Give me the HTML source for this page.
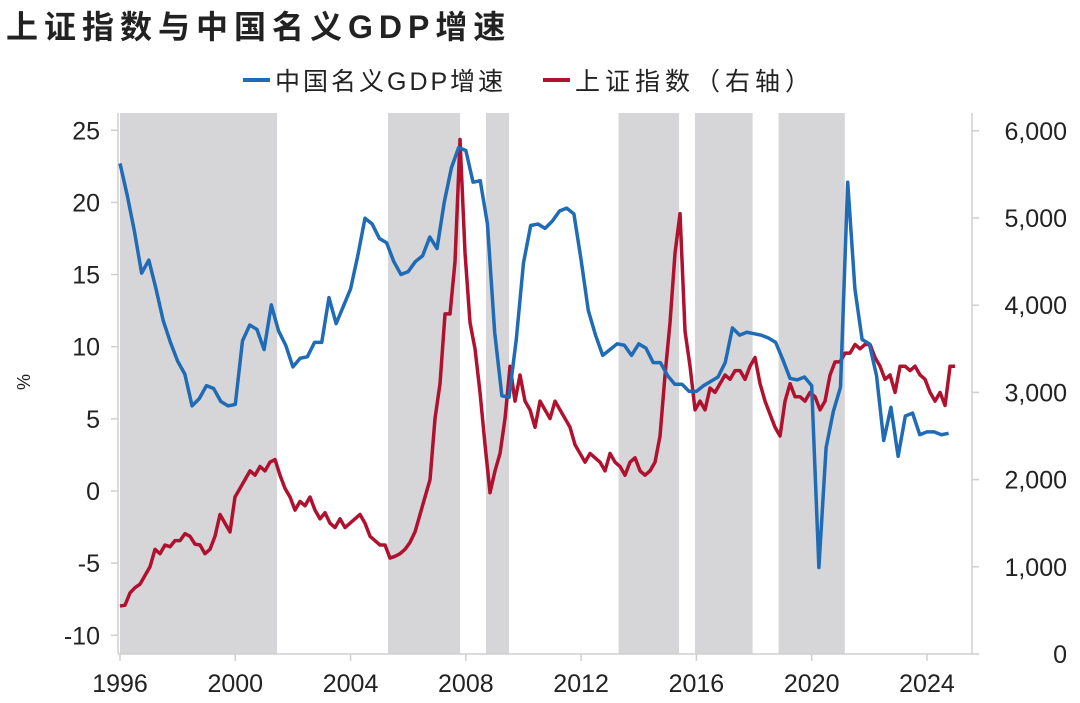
<!DOCTYPE html>
<html><head><meta charset="utf-8"><style>
body{margin:0;background:#fff;}
svg text{font-family:"Liberation Sans","Noto Sans CJK SC",sans-serif;fill:#222;}
</style></head><body>
<svg id="chart" width="1080" height="698" xmlns="http://www.w3.org/2000/svg">
<text x="6" y="38" font-size="32" font-weight="bold" style="letter-spacing:6px">上证指数与中国名义GDP增速</text>
<g>
<line x1="243" y1="80" x2="270" y2="80" stroke="#1f6bb5" stroke-width="4"/>
<text x="275" y="90" font-size="25" style="letter-spacing:3px">中国名义GDP增速</text>
<line x1="543" y1="80" x2="570" y2="80" stroke="#b0112e" stroke-width="4"/>
<text x="575" y="90" font-size="25" style="letter-spacing:5px">上证指数（右轴）</text>
</g>
<g id="bands"></g><g id="axes"></g><g id="lines"></g>
<text transform="translate(30,382) rotate(-90)" font-size="18" text-anchor="middle">%</text>
</svg>
<script>
const bandStarts=[1996.0,2005.3,2008.7,2013.3,2015.95,2018.85];
const bandEnds=[2001.45,2007.8,2009.5,2015.4,2017.95,2021.15];
const leftTicks=[25,20,15,10,5,0,-5,-10];
const rightTicks=[6000,5000,4000,3000,2000,1000,0];
const rightTickLabels=["6,000","5,000","4,000","3,000","2,000","1,000","0"];
const yearTicks=[1996,2000,2004,2008,2012,2016,2020,2024];
const gdpStart=1996.0;
const gdpValues=[22.7,20.5,18,15.1,16,14,11.8,10.3,9,8.1,5.9,6.4,7.3,7.1,6.2,5.9,6.0,10.4,11.5,11.2,9.8,12.9,11.1,10.1,8.6,9.2,9.3,10.3,10.3,13.4,11.6,12.8,14,16.3,18.9,18.5,17.5,17.2,15.9,15.0,15.2,15.9,16.3,17.6,16.8,20,22.4,23.8,23.6,21.4,21.5,18.5,11,6.6,6.5,10.5,15.8,18.4,18.5,18.2,18.7,19.4,19.6,19.2,16,12.5,10.8,9.4,9.8,10.2,10.1,9.4,10.2,9.9,8.9,8.9,8,7.4,7.4,6.9,6.9,7.3,7.6,7.9,8.9,11.3,10.8,11.0,10.9,10.8,10.6,10.3,9.1,7.8,7.7,7.9,7.3,-5.3,3.0,5.5,7.2,21.4,14,10.5,10.2,8.0,3.5,5.8,2.4,5.2,5.4,3.9,4.1,4.1,3.9,4.0];
const sseStart=1996.0;
const sseStep=0.1735;
const sseValues=[550,560,700,760,800,900,1000,1200,1150,1250,1230,1300,1300,1380,1350,1260,1250,1150,1200,1350,1600,1500,1400,1800,1900,2000,2100,2050,2150,2100,2200,2230,2050,1900,1800,1650,1750,1700,1800,1650,1550,1620,1500,1450,1550,1450,1500,1550,1600,1500,1350,1300,1250,1250,1100,1120,1150,1200,1280,1400,1600,1800,2000,2700,3100,3900,3900,4500,5900,4600,3800,3500,3000,2400,1850,2100,2300,2700,3300,2900,3200,2900,2800,2600,2900,2800,2700,2900,2800,2700,2600,2400,2300,2200,2300,2250,2200,2100,2300,2200,2150,2050,2200,2250,2100,2050,2100,2200,2500,3200,3800,4600,5050,3700,3300,2800,2900,2800,3050,3000,3100,3200,3150,3250,3250,3150,3300,3400,3100,2900,2750,2600,2500,2900,3100,2950,2950,2900,3000,2950,2800,2900,3200,3350,3350,3450,3450,3550,3500,3550,3550,3400,3300,3150,3200,3000,3300,3300,3250,3300,3200,3150,3000,2900,3000,2850,3300,3300];

const NS="http://www.w3.org/2000/svg";
const X0=118,X1=972,YT=113,YB=654;
const xs=y=>120+(y-1996)*28.82;
const yl=v=>491-v*14.43;
const yr=v=>654-v*0.0872;
function mk(tag,attrs,parent){const e=document.createElementNS(NS,tag);for(const k in attrs)e.setAttribute(k,attrs[k]);parent.appendChild(e);return e;}
const bands=document.getElementById('bands'),axes=document.getElementById('axes'),lines=document.getElementById('lines');
bandStarts.forEach((s,i)=>{const r=mk('rect',{x:xs(s),y:YT,width:xs(bandEnds[i])-xs(s),height:YB-YT,fill:'#d6d6d9'},bands);

});
const ax=[[X0,YT,X0,YB],[X0,YB,X1,YB],[X1,YT,X1,YB]];
ax.forEach(a=>{const l=mk('line',{x1:a[0],y1:a[1],x2:a[2],y2:a[3],stroke:'#cfcfcf','stroke-width':1.5},axes);

});
leftTicks.forEach(v=>{mk('line',{x1:X0-7,y1:yl(v),x2:X0,y2:yl(v),stroke:'#cfcfcf','stroke-width':1.5},axes);
const t=mk('text',{x:100,y:yl(v)+9,'font-size':25,'text-anchor':'end'},axes);t.textContent=v;

});
rightTicks.forEach((v,i)=>{mk('line',{x1:X1,y1:yr(v),x2:X1+7,y2:yr(v),stroke:'#cfcfcf','stroke-width':1.5},axes);
const t=mk('text',{x:1067,y:yr(v)+9,'font-size':25,'text-anchor':'end'},axes);t.textContent=rightTickLabels[i];

});
yearTicks.forEach(v=>{mk('line',{x1:xs(v),y1:YB,x2:xs(v),y2:YB+7,stroke:'#cfcfcf','stroke-width':1.5},axes);
const t=mk('text',{x:xs(v),y:692,'font-size':25,'text-anchor':'middle'},axes);t.textContent=v;

});
const sp=mk('polyline',{points:sseValues.map((v,i)=>xs(sseStart+i*sseStep)+','+yr(v)).join(' '),fill:'none',stroke:'#b0112e','stroke-width':3.5,'stroke-linejoin':'round'},lines);


const gp=mk('polyline',{points:gdpValues.map((v,i)=>xs(gdpStart+i*0.25)+','+yl(v)).join(' '),fill:'none',stroke:'#1f6bb5','stroke-width':3.5,'stroke-linejoin':'round'},lines);


</script>
</body></html>
